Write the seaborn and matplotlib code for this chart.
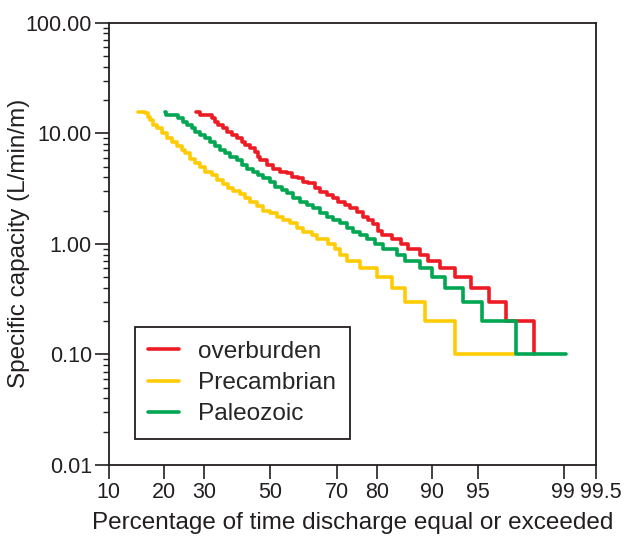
import numpy as np
import seaborn as sns
import matplotlib
matplotlib.use("Agg")
import matplotlib.pyplot as plt
import matplotlib.transforms as mtransforms
from matplotlib.ticker import FixedLocator, FuncFormatter, NullLocator
from statistics import NormalDist

# exceedance percentage (start of each step) and specific capacity (L/min/m)
over_pct = [27.9, 28.8, 32.1, 33.0, 34.0, 35.5, 36.5, 37.9, 39.5, 41.0,
            42.0, 43.6, 45.1, 46.2, 46.7, 48.8, 50.9, 53.0, 55.1, 56.7,
            58.7, 60.3, 61.8, 63.8, 65.3, 67.2, 69.0, 70.4, 72.2, 73.5,
            75.2, 76.9, 78.1, 79.2, 80.3, 81.1, 83.1, 85.0, 86.2, 88.2,
            89.4, 91.0, 92.8, 94.4, 95.8, 96.9, 98.15]
over_cap = [15.7, 14.6, 13.7, 12.7, 11.9, 11.1, 10.3, 9.7, 9.0, 8.4,
            7.8, 7.3, 6.8, 6.1, 5.7, 5.2, 4.8, 4.5, 4.35, 4.05,
            3.92, 3.65, 3.53, 3.18, 2.97, 2.77, 2.58, 2.41, 2.25, 2.10,
            1.96, 1.76, 1.64, 1.5, 1.3, 1.2, 1.1, 1.0, 0.9, 0.8,
            0.7, 0.6, 0.5, 0.4, 0.3, 0.2, 0.1]

pre_pct = [14.8, 16.0, 16.7, 17.0, 17.7, 18.4, 19.5, 20.6, 21.7, 22.9,
           24.1, 24.9, 26.2, 27.5, 28.8, 30.2, 32.1, 33.5, 35.5, 36.9,
           38.4, 40.5, 42.0, 43.6, 45.7, 47.7, 49.8, 52.0, 54.0, 56.1,
           58.2, 60.3, 62.8, 64.3, 67.6, 69.5, 70.9, 72.7, 76.0, 80.0,
           83.1, 85.6, 88.9, 92.8, 97.3]
pre_cap = [15.7, 15.2, 14.1, 13.2, 11.9, 11.1, 10.0, 9.0, 8.4, 7.6,
           7.1, 6.6, 5.9, 5.4, 5.0, 4.5, 4.2, 3.8, 3.5, 3.2,
           3.0, 2.8, 2.6, 2.4, 2.2, 2.0, 1.9, 1.76, 1.64, 1.53,
           1.38, 1.29, 1.2, 1.1, 1.0, 0.9, 0.8, 0.7, 0.6, 0.5,
           0.4, 0.3, 0.2, 0.1, 0.1]

pal_pct = [20.2, 20.5, 23.3, 24.5, 25.4, 26.7, 27.5, 28.8, 30.2, 31.6,
           33.0, 34.5, 35.9, 37.4, 39.5, 41.0, 42.5, 44.6, 46.2, 47.7,
           49.8, 51.4, 53.5, 55.1, 57.2, 59.3, 61.3, 63.3, 65.3, 67.2,
           69.0, 70.9, 72.7, 74.4, 76.0, 77.7, 79.6, 81.4, 84.1, 85.6,
           88.2, 89.9, 91.6, 93.6, 95.3, 97.4, 99.04]
pal_cap = [15.7, 14.6, 13.7, 12.7, 11.9, 11.1, 10.3, 9.7, 9.0, 8.4,
           7.6, 7.1, 6.6, 6.1, 5.7, 5.2, 4.8, 4.5, 4.2, 3.92,
           3.65, 3.29, 3.07, 2.87, 2.59, 2.41, 2.25, 2.10, 1.89, 1.76,
           1.64, 1.53, 1.38, 1.29, 1.2, 1.1, 1.0, 0.9, 0.8, 0.7,
           0.6, 0.5, 0.4, 0.3, 0.2, 0.1, 0.1]

x_ticks = [10, 20, 30, 50, 70, 80, 90, 95, 99, 99.5]
y_ticks = [0.01, 0.1, 1, 10, 100]

series = [("overburden", over_pct, over_cap, "#ED1C24"),
          ("Precambrian", pre_pct, pre_cap, "#FFCB05"),
          ("Paleozoic", pal_pct, pal_cap, "#00A651")]

# normal probability scale for the x axis
_nd = NormalDist()
_ppf = np.vectorize(_nd.inv_cdf, otypes=[float])
_cdf = np.vectorize(_nd.cdf, otypes=[float])

def prob_fwd(p):
    p = np.clip(np.asarray(p, dtype=float) / 100.0, 1e-9, 1 - 1e-9)
    return _ppf(p)

def prob_inv(z):
    return _cdf(np.asarray(z, dtype=float)) * 100.0


sns.set_style("ticks")
plt.rcParams["font.family"] = ["Liberation Sans", "DejaVu Sans"]
ink = "#231F20"

fig = plt.figure(figsize=(6.27, 5.37), dpi=100)
ax = fig.add_axes([108.5 / 627, 1 - 465 / 537, 487.5 / 627, 442.3 / 537])

for name, pct, cap, col in series:
    sns.lineplot(x=pct, y=cap, drawstyle="steps-post", estimator=None, sort=False,
                 color=col, lw=2.6, label=name, ax=ax)

ax.set_xscale("function", functions=(prob_fwd, prob_inv))
ax.set_yscale("log")
ax.set_xlim(10, 99.5)
ax.set_ylim(0.01, 100)

ax.xaxis.set_major_locator(FixedLocator(x_ticks))
ax.xaxis.set_major_formatter(FuncFormatter(lambda v, _: "%g" % v))
ax.xaxis.set_minor_locator(NullLocator())
ax.yaxis.set_major_locator(FixedLocator(y_ticks))
ax.yaxis.set_major_formatter(FuncFormatter(lambda v, _: "%.2f" % v))
ax.yaxis.set_minor_locator(FixedLocator([m * 10.0 ** e for e in range(-2, 2) for m in range(2, 10)]))

ax.tick_params(axis="both", which="major", direction="out", length=10, width=1.2,
               color=ink, labelsize=15.5, labelcolor=ink, pad=2)
ax.tick_params(axis="y", which="minor", direction="out", length=4, width=1.0, color=ink)
for s in ax.spines.values():
    s.set_visible(True)
    s.set_linewidth(1.3)
    s.set_color(ink)

ax.set_xlabel("Percentage of time discharge equal or exceeded", fontsize=17.5,
              color=ink, labelpad=7)
ax.set_ylabel("Specific capacity (L/min/m)", fontsize=17.5, color=ink)
ax.yaxis.set_label_coords(-0.16, 0.5)

# nudge the crowded 99 / 99.5 labels apart
ticks = ax.xaxis.get_major_ticks()
ticks[-2].label1.set_transform(ticks[-2].label1.get_transform() +
                               mtransforms.ScaledTranslation(-2 / 100, 0, fig.dpi_scale_trans))
ticks[-1].label1.set_transform(ticks[-1].label1.get_transform() +
                               mtransforms.ScaledTranslation(5 / 100, 0, fig.dpi_scale_trans))

leg = ax.legend(loc="lower left", bbox_to_anchor=(0.054, 0.059), borderaxespad=0,
                fontsize=17.6, frameon=True, fancybox=False, edgecolor=ink,
                handlelength=1.25, handletextpad=0.8, labelspacing=0.38, borderpad=0.55)
leg.get_frame().set_linewidth(1.3)
leg.get_frame().set_alpha(1)

fig.savefig("out.png", dpi=100)
